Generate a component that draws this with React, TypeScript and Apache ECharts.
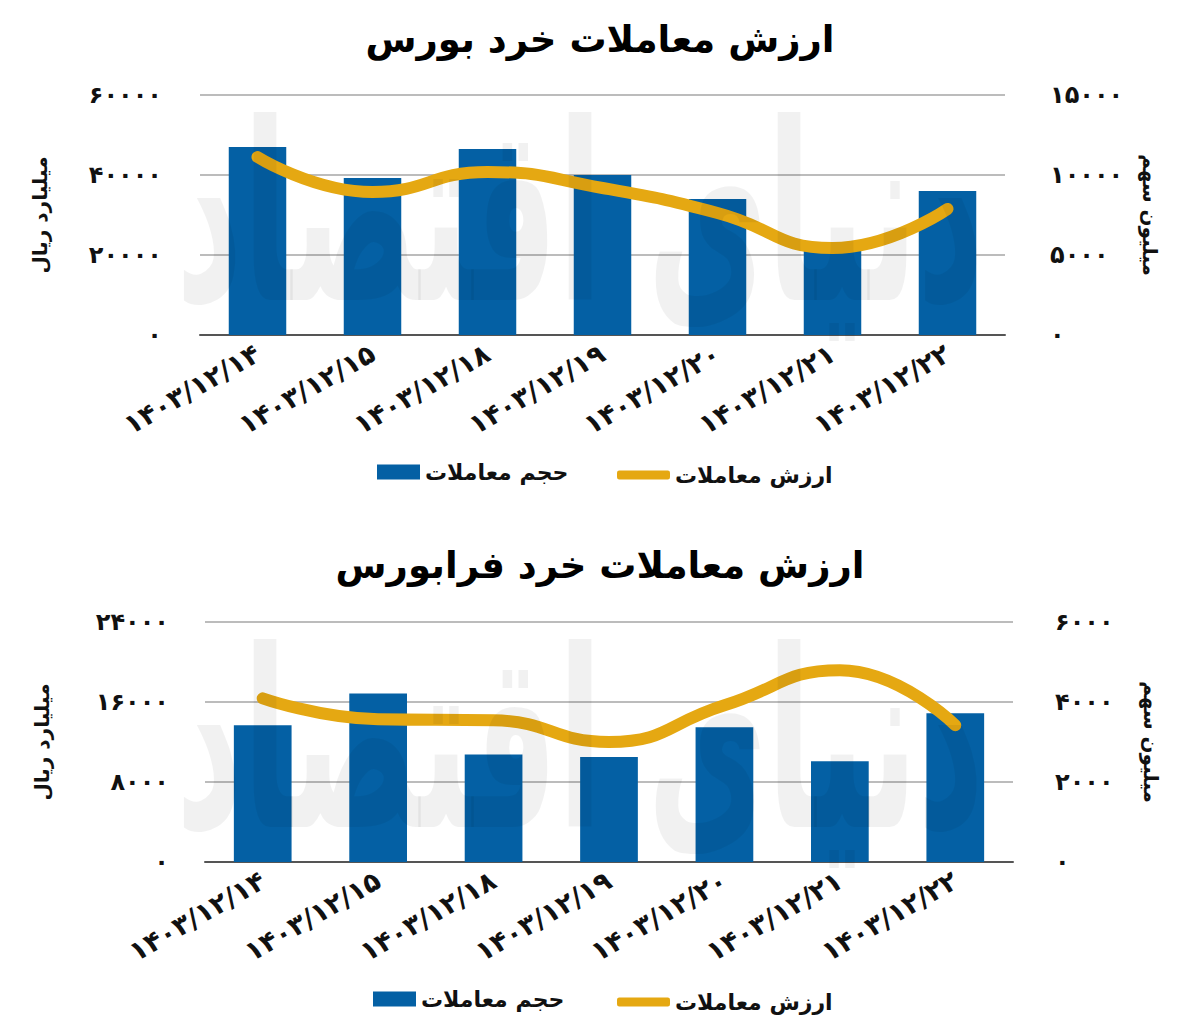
import React, { useEffect, useRef } from 'react';
import * as echarts from 'echarts';

const categories = ['۱۴۰۳/۱۲/۱۴', '۱۴۰۳/۱۲/۱۵', '۱۴۰۳/۱۲/۱۸', '۱۴۰۳/۱۲/۱۹', '۱۴۰۳/۱۲/۲۰', '۱۴۰۳/۱۲/۲۱', '۱۴۰۳/۱۲/۲۲'];
const bourseVolume = [11750, 9810, 11625, 10000, 8500, 5810, 9000];
const bourseValue = [44500, 35750, 40750, 36750, 30500, 21750, 31500];
const farabourseVolume = [3417, 4210, 2685, 2625, 3367, 2517, 3717];
const farabourseValue = [16370, 14270, 14170, 12000, 15670, 19170, 13670];
const titles = ['ارزش معاملات خرد بورس', 'ارزش معاملات خرد فرابورس'];
const volumeName = 'حجم معاملات';
const valueName = 'ارزش معاملات';
const leftAxisName = 'میلیارد ریال';
const rightAxisName = 'میلیون سهم';
const watermarkText = 'دنیای اقتصاد';
const bourseLeftMax = 60000;
const bourseRightMax = 15000;
const farabourseLeftMax = 24000;
const farabourseRightMax = 6000;

const FONT = 'DejaVu Sans';
const BLUE = '#0460A4';
const GOLD = '#E5A812';

const fa = (v: number | string) => String(v).replace(/\d/g, (d) => '۰۱۲۳۴۵۶۷۸۹'[+d]);

export default function App() {
  const ref = useRef<HTMLDivElement>(null);
  useEffect(() => {
    document.body.style.margin = '0';
    const chart = echarts.init(ref.current!, undefined, { renderer: 'svg' });
    const tickLabel = (align: string) => ({
      formatter: (v: number) => fa(v),
      fontFamily: FONT,
      fontWeight: 'bold',
      fontSize: 24,
      color: '#111',
      align,
    });
    const yAxis = (grid: number, pos: 'left' | 'right', max: number, name: string, margin: number, gap: number, split: boolean) => ({
      type: 'value',
      gridIndex: grid,
      position: pos,
      min: 0,
      max,
      interval: max / 3,
      name,
      nameLocation: 'middle',
      nameGap: gap,
      nameRotate: pos === 'left' ? 90 : -90,
      nameTextStyle: { fontFamily: FONT, fontWeight: 'bold', fontSize: 20, color: '#111' },
      axisLine: { show: false },
      axisTick: { show: false },
      axisLabel: { ...tickLabel(pos === 'left' ? 'right' : 'left'), margin },
      splitLine: { show: split, lineStyle: { color: '#a6a6a6', width: 1.5 } },
    });
    const xAxis = (grid: number) => ({
      type: 'category',
      gridIndex: grid,
      data: categories,
      axisLine: { lineStyle: { color: '#555', width: 2 } },
      axisTick: { show: false },
      axisLabel: {
        rotate: 30,
        margin: 16,
        fontFamily: FONT,
        fontWeight: 'bold',
        fontSize: 27,
        color: '#111',
        interval: 0,
      },
    });
    const legendText = { fontFamily: FONT, fontWeight: 'bold', fontSize: 22, color: '#111' };
    const legends = (top: number, leftA: number, leftB: number) => [
      {
        data: [{ name: volumeName, icon: 'rect' }],
        left: leftA,
        top,
        itemWidth: 43,
        itemHeight: 15,
        textStyle: legendText,
      },
      {
        data: [{ name: valueName, icon: 'roundRect' }],
        left: leftB,
        top: top + 3,
        itemWidth: 53,
        itemHeight: 9,
        textStyle: legendText,
      },
    ];
    const barSeries = (axis: number, data: number[]) => ({
      type: 'bar',
      name: volumeName,
      xAxisIndex: axis,
      yAxisIndex: axis * 2 + 1,
      data,
      barWidth: '50%',
      itemStyle: { color: BLUE },
      z: 2,
    });
    const lineSeries = (axis: number, data: number[]) => ({
      type: 'line',
      name: valueName,
      xAxisIndex: axis,
      yAxisIndex: axis * 2,
      data,
      smooth: 0.5,
      showSymbol: false,
      color: GOLD,
      itemStyle: { color: GOLD },
      lineStyle: { color: GOLD, width: 12, cap: 'round' },
      z: 3,
    });
    const watermark = (cy: number) => ({
      type: 'text',
      x: 580,
      y: cy,
      z: 100,
      silent: true,
      scaleY: 1.9,
      style: {
        text: watermarkText,
        font: `bold 130px "${FONT}"`,
        fill: 'rgba(0,0,0,0.055)',
        textAlign: 'center',
        textVerticalAlign: 'middle',
      },
    });
    chart.setOption({
      animation: false,
      backgroundColor: '#fff',
      title: [
        { text: titles[0], left: 'center', top: 16, textStyle: { fontFamily: FONT, fontWeight: 'bold', fontSize: 37, color: '#000' } },
        { text: titles[1], left: 'center', top: 542, textStyle: { fontFamily: FONT, fontWeight: 'bold', fontSize: 37, color: '#000' } },
      ],
      grid: [
        { left: 200, right: 195, top: 95, height: 240 },
        { left: 205, right: 187, top: 622, height: 240 },
      ],
      xAxis: [xAxis(0), xAxis(1)],
      yAxis: [
        yAxis(0, 'left', bourseLeftMax, leftAxisName, 38, 150, true),
        yAxis(0, 'right', bourseRightMax, rightAxisName, 45, 135, false),
        yAxis(1, 'left', farabourseLeftMax, leftAxisName, 36, 153, true),
        yAxis(1, 'right', farabourseRightMax, rightAxisName, 42, 128, false),
      ],
      legend: [...legends(456, 372, 612), ...legends(983, 368, 612)],
      series: [
        barSeries(0, bourseVolume),
        lineSeries(0, bourseValue),
        barSeries(1, farabourseVolume),
        lineSeries(1, farabourseValue),
      ],
      graphic: [watermark(215), watermark(742)],
    });
    return () => chart.dispose();
  }, []);
  return <div ref={ref} style={{ width: 1200, height: 1035 }} />;
}
